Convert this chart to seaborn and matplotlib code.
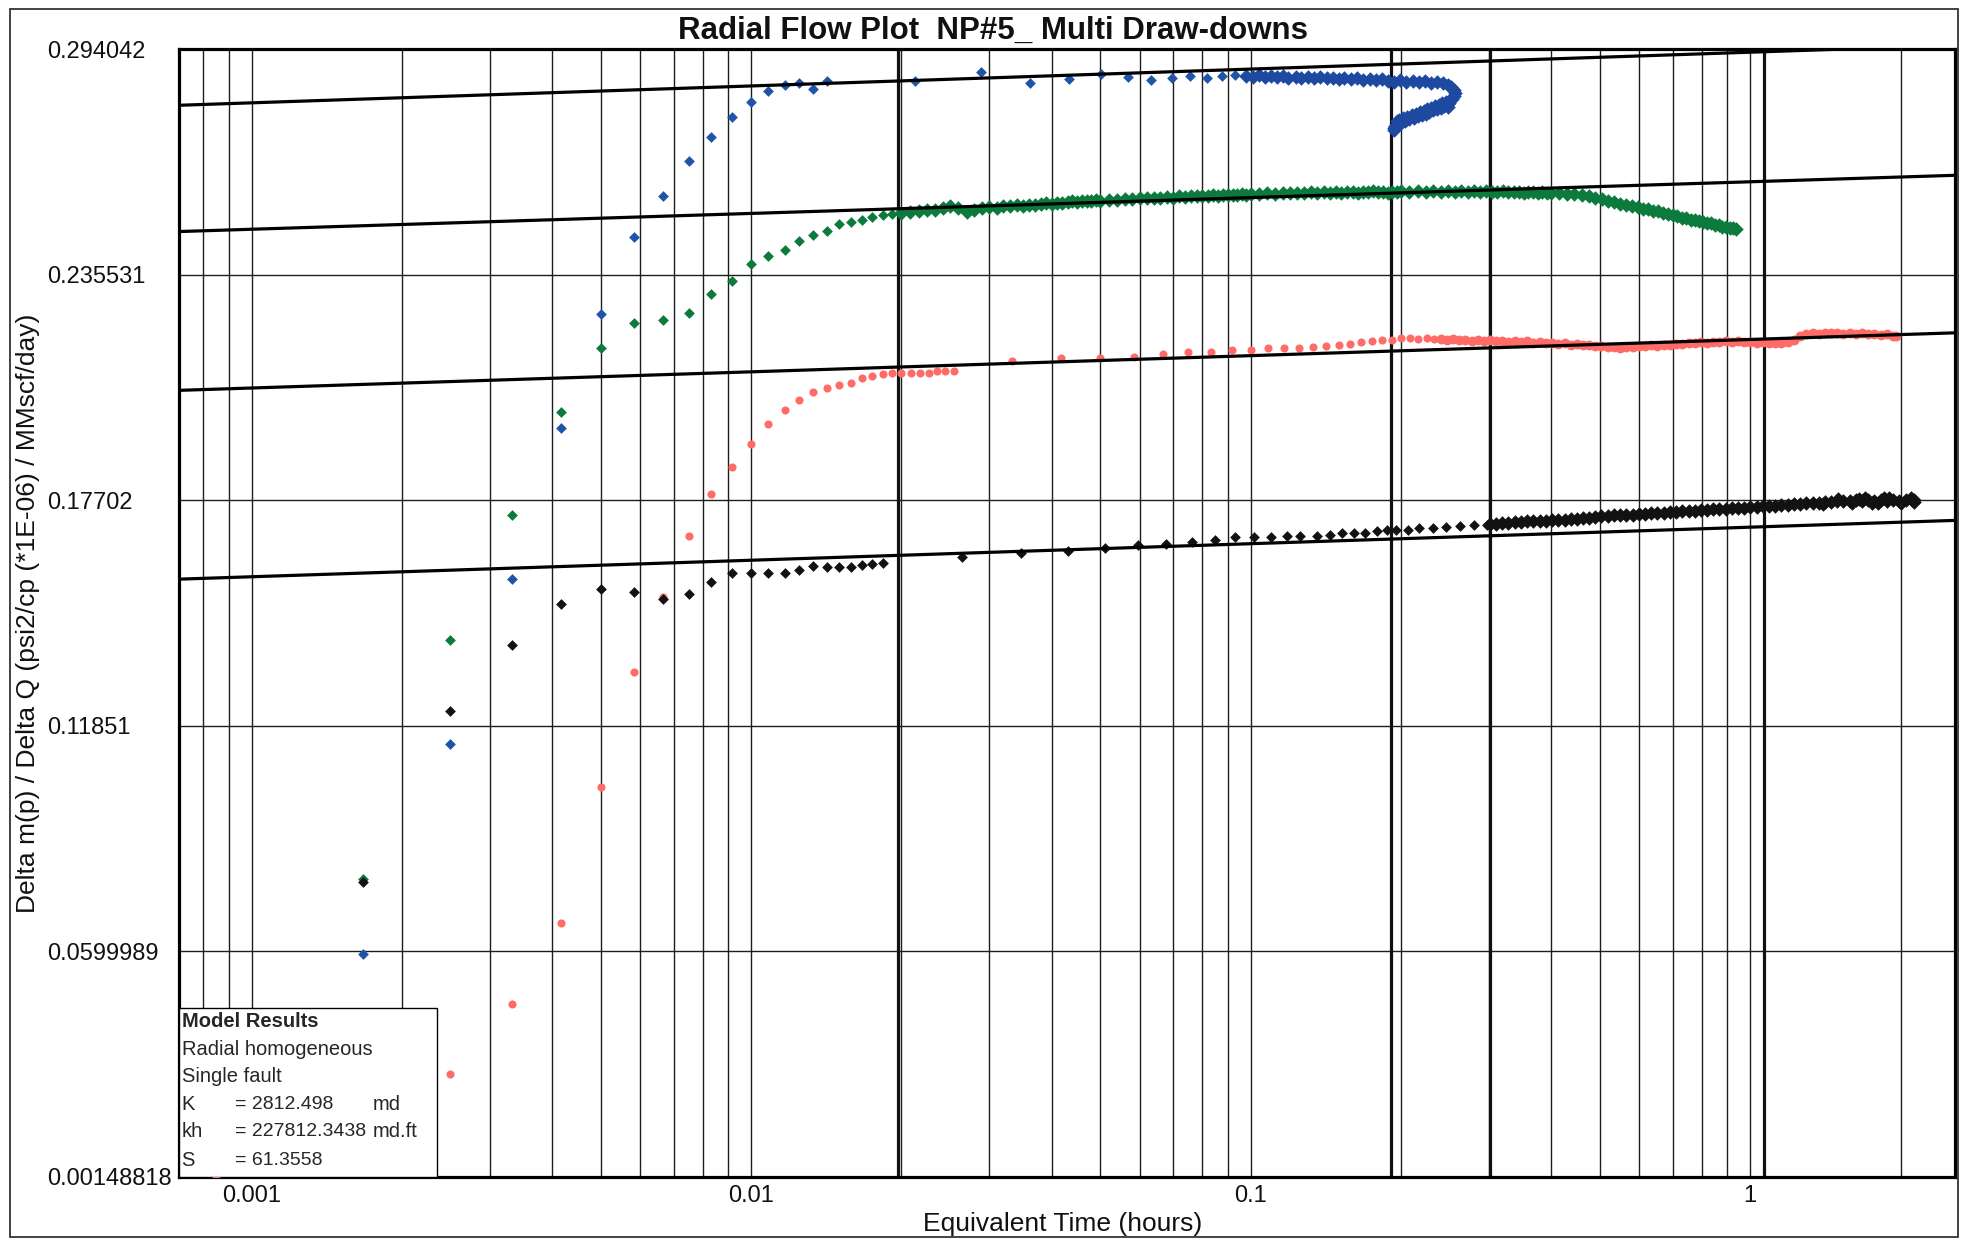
import numpy as np
import pandas as pd
import matplotlib
matplotlib.use('Agg')
import matplotlib.pyplot as plt
import seaborn as sns
from matplotlib.patches import Rectangle
from matplotlib.ticker import LogLocator, FixedLocator, NullFormatter

sns.set_theme(style='white')
plt.rcParams['font.family'] = ['Liberation Sans', 'DejaVu Sans']

# ---- data (time in hours, value in psi2/cp/MMscf/day) ----
# early, well separated points
blue_t = [0.00167, 0.0025, 0.00333, 0.00417, 0.005, 0.00583, 0.00667, 0.0075, 0.00833, 0.00917,
          0.01, 0.01083, 0.01167, 0.0125, 0.01333, 0.01417,
          0.0213, 0.0288, 0.0362, 0.0433, 0.0502, 0.0567, 0.0632, 0.0697, 0.0758, 0.0818,
          0.0875, 0.0930]
blue_v = [0.0593, 0.1137, 0.1565, 0.1958, 0.2253, 0.2454, 0.2558, 0.2649, 0.2713, 0.2765,
          0.2804, 0.2832, 0.2846, 0.2853, 0.2838, 0.2858,
          0.2857, 0.2880, 0.2853, 0.2862, 0.2875, 0.2868, 0.2859, 0.2866, 0.2870, 0.2866,
          0.2870, 0.2872]
# late, densely sampled part (incl. the loop back in equivalent time)
blue_band_t = [0.098, 0.101, 0.104, 0.107, 0.110, 0.113, 0.116, 0.119, 0.123, 0.126,
               0.130, 0.134, 0.138, 0.142, 0.146, 0.150, 0.154, 0.159, 0.163, 0.168,
               0.173, 0.178, 0.183, 0.188, 0.194, 0.199, 0.205, 0.211, 0.217, 0.223,
               0.230, 0.236, 0.243, 0.248,
               0.252, 0.255, 0.256, 0.255, 0.253, 0.250, 0.2485,
               0.244, 0.240, 0.236, 0.232, 0.228, 0.224, 0.220, 0.216, 0.212, 0.208,
               0.204, 0.200, 0.197, 0.195, 0.194, 0.194,
               0.250, 0.246, 0.242, 0.238, 0.234, 0.230, 0.226, 0.222, 0.218, 0.214,
               0.210, 0.206, 0.202, 0.198, 0.196]
blue_band_v = [0.2871, 0.2869, 0.2872, 0.2868, 0.2871, 0.2867, 0.2870, 0.2866, 0.2869, 0.2866,
               0.2868, 0.2865, 0.2867, 0.2864, 0.2866, 0.2863, 0.2865, 0.2862, 0.2864, 0.2861,
               0.2863, 0.2860, 0.2862, 0.2858, 0.2856, 0.2859, 0.2855, 0.2858, 0.2854, 0.2857,
               0.2853, 0.2855, 0.2851, 0.2848,
               0.2842, 0.2834, 0.2826, 0.2818, 0.2810, 0.2800, 0.2790,
               0.2792, 0.2788, 0.2784, 0.2781, 0.2777, 0.2773, 0.2769, 0.2766, 0.2762, 0.2758,
               0.2754, 0.2749, 0.2745, 0.2740, 0.2735, 0.2730,
               0.2806, 0.2803, 0.2800, 0.2796, 0.2792, 0.2788, 0.2784, 0.2780, 0.2776, 0.2772,
               0.2769, 0.2765, 0.2761, 0.2757, 0.2753]

green_t = [0.00167, 0.0025, 0.00333, 0.00417, 0.005, 0.00583, 0.00667, 0.0075, 0.00833, 0.00917,
           0.01, 0.01083, 0.01167, 0.0125, 0.01333, 0.01417, 0.015, 0.01583, 0.01667, 0.0175,
           0.01833, 0.01917]
green_v = [0.0787, 0.1407, 0.1731, 0.2000, 0.2165, 0.2229, 0.2237, 0.2257, 0.2306, 0.2338,
           0.2384, 0.2403, 0.2419, 0.2443, 0.2458, 0.2469, 0.2486, 0.2492, 0.2498, 0.2505,
           0.2509, 0.2512]
green_band_t = [0.02, 0.02083, 0.02167, 0.0225, 0.02333, 0.02417, 0.025,
                0.026, 0.027, 0.028, 0.029, 0.030, 0.031, 0.032, 0.033, 0.034, 0.035,
                0.036, 0.037, 0.038, 0.039, 0.040, 0.041, 0.042, 0.043, 0.044, 0.045,
                0.046, 0.047, 0.048, 0.049, 0.050,
                0.052, 0.054, 0.056, 0.058, 0.060, 0.062, 0.064, 0.066, 0.068, 0.070,
                0.072, 0.074, 0.076, 0.078, 0.080, 0.082, 0.084, 0.086, 0.088, 0.090,
                0.092, 0.094, 0.096, 0.098, 0.100,
                0.104, 0.108, 0.112, 0.116, 0.120, 0.124, 0.128, 0.132, 0.136, 0.140,
                0.144, 0.148, 0.152, 0.156, 0.160, 0.164, 0.168, 0.172, 0.176, 0.180,
                0.184, 0.188, 0.192, 0.196, 0.200,
                0.208, 0.216, 0.224, 0.232, 0.240, 0.248, 0.256, 0.264, 0.272, 0.280,
                0.288, 0.296, 0.304, 0.312, 0.320, 0.328, 0.336, 0.344, 0.352, 0.360,
                0.368, 0.376, 0.384, 0.392, 0.400,
                0.415, 0.430, 0.445, 0.460, 0.475, 0.490, 0.505, 0.520, 0.535, 0.550,
                0.565, 0.580, 0.595, 0.610, 0.625, 0.640, 0.655, 0.670, 0.685, 0.700,
                0.715, 0.730, 0.745, 0.760, 0.775, 0.790, 0.805, 0.820, 0.835, 0.850,
                0.865, 0.880, 0.895, 0.910, 0.925, 0.935]
green_band_v = [0.2515, 0.2518, 0.2520, 0.2522, 0.2524, 0.2527, 0.2533,
                0.2528, 0.2518, 0.2524, 0.2528, 0.2530, 0.2529, 0.2532, 0.2533, 0.2535, 0.2534,
                0.2537, 0.2536, 0.2538, 0.2540, 0.2539, 0.2542, 0.2541, 0.2543, 0.2545, 0.2543,
                0.2546, 0.2547, 0.2545, 0.2548, 0.2547,
                0.2550, 0.2549, 0.2552, 0.2551, 0.2554, 0.2553, 0.2555, 0.2554, 0.2557, 0.2555,
                0.2558, 0.2557, 0.2559, 0.2558, 0.2560, 0.2559, 0.2561, 0.2560, 0.2562, 0.2561,
                0.2563, 0.2562, 0.2564, 0.2563, 0.2565,
                0.2564, 0.2566, 0.2565, 0.2567, 0.2566, 0.2568, 0.2567, 0.2569, 0.2567, 0.2569,
                0.2568, 0.2570, 0.2568, 0.2570, 0.2569, 0.2568, 0.2570, 0.2569, 0.2571, 0.2569,
                0.2570, 0.2568, 0.2570, 0.2569, 0.2571,
                0.2570, 0.2572, 0.2570, 0.2571, 0.2569, 0.2572, 0.2570, 0.2571, 0.2569, 0.2571,
                0.2570, 0.2572, 0.2570, 0.2569, 0.2571, 0.2570, 0.2569, 0.2570, 0.2568, 0.2570,
                0.2569, 0.2568, 0.2569, 0.2567, 0.2568,
                0.2567, 0.2565, 0.2565, 0.2561, 0.2559, 0.2553, 0.2551, 0.2546, 0.2544, 0.2539,
                0.2537, 0.2532, 0.2531, 0.2526, 0.2525, 0.2520, 0.2519, 0.2514, 0.2513, 0.2509,
                0.2508, 0.2503, 0.2503, 0.2498, 0.2498, 0.2494, 0.2493, 0.2489, 0.2489, 0.2484,
                0.2484, 0.2480, 0.2480, 0.2476, 0.2476, 0.2473]

red_t = [0.00085, 0.0025, 0.00333, 0.00417, 0.005, 0.00583, 0.00667, 0.0075, 0.00833, 0.00917,
         0.01, 0.01083, 0.01167, 0.0125, 0.01333, 0.01417, 0.015, 0.01583, 0.01667, 0.0175,
         0.01833, 0.01917, 0.02, 0.0209, 0.0218, 0.0227, 0.0236, 0.0245, 0.0255,
         0.0333, 0.0417, 0.05, 0.0583, 0.0667, 0.075, 0.0833, 0.0917, 0.1, 0.1083,
         0.1167, 0.125, 0.1333, 0.1417, 0.15, 0.1583, 0.1667, 0.175, 0.1833, 0.1917, 0.2,
         0.2083, 0.2167, 0.225, 0.2333]
red_v = [0.0012, 0.0281, 0.0463, 0.0674, 0.1027, 0.1325, 0.1518, 0.1677, 0.1785, 0.1856,
         0.1917, 0.1967, 0.2004, 0.2031, 0.2051, 0.2060, 0.2068, 0.2073, 0.2086, 0.2092,
         0.2097, 0.2100, 0.2100, 0.2100, 0.2099, 0.2099, 0.2106, 0.2106, 0.2106,
         0.2131, 0.2140, 0.2140, 0.2142, 0.2149, 0.2155, 0.2155, 0.2159, 0.2159, 0.2164,
         0.2164, 0.2164, 0.2168, 0.2170, 0.2172, 0.2175, 0.2181, 0.2184, 0.2185, 0.2187, 0.2190,
         0.2190, 0.2189, 0.2190, 0.2188]
red_band_t = [0.240, 0.247, 0.254, 0.261, 0.269, 0.277, 0.285, 0.293, 0.301, 0.310,
              0.319, 0.328, 0.338, 0.348, 0.358, 0.368, 0.379, 0.390, 0.401, 0.413,
              0.425, 0.437, 0.450, 0.463, 0.476, 0.490, 0.504, 0.519, 0.534, 0.549,
              0.565, 0.582, 0.599, 0.616, 0.634, 0.652, 0.671, 0.691, 0.711, 0.731,
              0.753, 0.774, 0.797, 0.820, 0.844, 0.868, 0.893, 0.919, 0.946, 0.973,
              1.001, 1.030, 1.060, 1.091, 1.123, 1.155, 1.189, 1.223, 1.259, 1.295,
              1.333, 1.371, 1.411, 1.452, 1.494, 1.537, 1.582, 1.628, 1.675, 1.723,
              1.773, 1.825, 1.878, 1.932, 1.960]
red_band_v = [0.2188, 0.2186, 0.2188, 0.2185, 0.2187, 0.2184, 0.2186, 0.2183, 0.2185, 0.2182,
              0.2184, 0.2181, 0.2183, 0.2180, 0.2182, 0.2179, 0.2180, 0.2177, 0.2179, 0.2176,
              0.2177, 0.2174, 0.2175, 0.2172, 0.2172, 0.2169, 0.2170, 0.2167, 0.2168, 0.2166,
              0.2168, 0.2167, 0.2170, 0.2169, 0.2172, 0.2171, 0.2174, 0.2173, 0.2176, 0.2175,
              0.2178, 0.2177, 0.2180, 0.2179, 0.2181, 0.2180, 0.2182, 0.2180, 0.2182, 0.2180,
              0.2181, 0.2179, 0.2180, 0.2178, 0.2179, 0.2178, 0.2181, 0.2187, 0.2195, 0.2200,
              0.2203, 0.2202, 0.2205, 0.2203, 0.2205, 0.2202, 0.2204, 0.2201, 0.2203, 0.2200,
              0.2202, 0.2199, 0.2200, 0.2197, 0.2196]

black_t = [0.00167, 0.0025, 0.00333, 0.00417, 0.005, 0.00583, 0.00667, 0.0075, 0.00833, 0.00917,
           0.01, 0.01083, 0.01167, 0.0125, 0.01333, 0.01417, 0.015, 0.01583, 0.01667, 0.0175,
           0.01833,
           0.0265, 0.0347, 0.0430, 0.0512, 0.0595, 0.0678, 0.0765, 0.0847, 0.0930,
           0.1015, 0.1099, 0.1182, 0.1256, 0.1355, 0.1444, 0.1522, 0.1612, 0.1697, 0.1790,
           0.1878, 0.1958, 0.2063, 0.2176, 0.2316, 0.2466, 0.2627, 0.2797, 0.2975]
black_v = [0.0779, 0.1224, 0.1394, 0.1500, 0.1540, 0.1533, 0.1513, 0.1526, 0.1559, 0.1582,
           0.1582, 0.1582, 0.1582, 0.1589, 0.1599, 0.1596, 0.1596, 0.1596, 0.1602, 0.1604,
           0.1608,
           0.1623, 0.1632, 0.1639, 0.1645, 0.1654, 0.1656, 0.1662, 0.1667, 0.1674,
           0.1675, 0.1675, 0.1678, 0.1678, 0.1678, 0.1680, 0.1686, 0.1686, 0.1686, 0.1690,
           0.1693, 0.1694, 0.1694, 0.1697, 0.1699, 0.1701, 0.1704, 0.1706, 0.1707]
black_band_t = [0.301, 0.310, 0.319, 0.328, 0.338, 0.348, 0.358, 0.368, 0.379, 0.390,
                0.401, 0.413, 0.425, 0.437, 0.450, 0.463, 0.476, 0.490, 0.504, 0.519,
                0.534, 0.549, 0.565, 0.582, 0.599, 0.616, 0.634, 0.652, 0.671, 0.691,
                0.711, 0.731, 0.753, 0.774, 0.797, 0.820, 0.844, 0.868, 0.893, 0.919,
                0.946, 0.973, 1.001, 1.030, 1.060, 1.091, 1.123, 1.155, 1.189, 1.223,
                1.259, 1.295, 1.333, 1.371, 1.411, 1.452, 1.494, 1.537, 1.582, 1.628,
                1.675, 1.723, 1.773, 1.825, 1.878, 1.932, 1.990, 2.047, 2.106, 2.130,
                1.40, 1.50, 1.60, 1.70, 1.80, 1.90, 2.00, 2.10, 2.13, 1.65, 1.85, 1.75]
black_band_v = [0.1708, 0.1709, 0.1710, 0.1711, 0.1713, 0.1713, 0.1715, 0.1715, 0.1717, 0.1717,
                0.1718, 0.1719, 0.1720, 0.1721, 0.1722, 0.1723, 0.1725, 0.1726, 0.1728, 0.1729,
                0.1731, 0.1731, 0.1732, 0.1733, 0.1734, 0.1734, 0.1736, 0.1737, 0.1738, 0.1739,
                0.1740, 0.1741, 0.1742, 0.1743, 0.1745, 0.1745, 0.1747, 0.1747, 0.1748, 0.1749,
                0.1750, 0.1750, 0.1752, 0.1753, 0.1754, 0.1755, 0.1756, 0.1757, 0.1759, 0.1760,
                0.1761, 0.1762, 0.1764, 0.1764, 0.1766, 0.1765, 0.1767, 0.1769, 0.1767, 0.1770,
                0.1768, 0.1771, 0.1768, 0.1771, 0.1769, 0.1771, 0.1769, 0.1771, 0.1770, 0.1771,
                0.1760, 0.1773, 0.1763, 0.1775, 0.1763, 0.1776, 0.1764, 0.1776, 0.1766, 0.1774,
                0.1775, 0.1764]

# semi-log straight lines (value at left and right edge of the time axis)
fit_left = [0.27945, 0.24670, 0.20551, 0.15654]
fit_right = [0.29501, 0.26129, 0.22043, 0.17178]
# heavy vertical marker lines
marker_t = [0.0197, 0.191, 0.3015, 1.066]

x_limits = [0.000716, 2.57]
y_ticks = [0.00148818, 0.0599989, 0.11851, 0.17702, 0.235531, 0.294042]
y_tick_labels = ['0.00148818', '0.0599989', '0.11851', '0.17702', '0.235531', '0.294042']
x_ticks = [0.001, 0.01, 0.1, 1]
x_tick_labels = ['0.001', '0.01', '0.1', '1']

model_lines = [('Radial homogeneous', '', ''), ('Single fault', '', ''),
               ('K', '= 2812.498', 'md'), ('kh', '= 227812.3438', 'md.ft'),
               ('S', '= 61.3558', '')]

# ---- figure ----
fig = plt.figure(figsize=(19.61, 12.41), dpi=100)
ax = fig.add_axes([0.0913, 0.0516, 0.9056, 0.9089])
ax.set_xscale('log')

series = [
    (blue_t, blue_v, '#1f55a8', 'D', 30),
    (blue_band_t, blue_band_v, '#1d4aa0', 'D', 55),
    (green_t, green_v, '#0b7a3c', 'D', 30),
    (green_band_t, green_band_v, '#0b7a3c', 'D', 55),
    (red_t, red_v, '#ff6b66', 'o', 34),
    (red_band_t, red_band_v, '#ff6b66', 'o', 50),
    (black_t, black_v, '#121212', 'D', 30),
    (black_band_t, black_band_v, '#121212', 'D', 55),
]
for t, v, color, marker, size in series:
    df = pd.DataFrame({'t': t, 'v': v})
    sns.scatterplot(data=df, x='t', y='v', color=color, marker=marker, s=size,
                    linewidth=0, ax=ax, zorder=3, legend=False)

for yl, yr in zip(fit_left, fit_right):
    ax.plot(x_limits, [yl, yr], color='black', lw=2.3, zorder=4, solid_capstyle='butt')

for t in marker_t:
    ax.axvline(t, color='#111111', lw=2.3, zorder=2.5)

ax.set_xlim(x_limits)
ax.set_ylim(y_ticks[0], y_ticks[-1])

ax.xaxis.set_major_locator(FixedLocator(x_ticks))
ax.set_xticklabels(x_tick_labels)
ax.xaxis.set_minor_locator(LogLocator(base=10, subs=np.arange(2, 10)))
ax.xaxis.set_minor_formatter(NullFormatter())
ax.set_yticks(y_ticks)
ax.set_yticklabels(y_tick_labels)

ax.set_axisbelow(True)
ax.grid(True, which='both', axis='x', color='#1a1f1c', lw=1.0)
ax.grid(True, which='major', axis='y', color='#1a1f1c', lw=1.0)

ax.tick_params(axis='both', which='major', direction='out', length=3, width=1,
               color='black', labelsize=17, labelcolor='#111111')
ax.tick_params(axis='x', which='major', pad=3)
ax.tick_params(axis='x', which='minor', length=0)
ax.tick_params(axis='y', pad=92)
for lbl in ax.get_yticklabels():
    lbl.set_horizontalalignment('left')

for s in ax.spines.values():
    s.set_linewidth(2.3)
    s.set_color('black')

ax.set_xlabel('Equivalent Time (hours)', fontsize=19, color='#111111')
ax.xaxis.set_label_coords(0.4977, -0.031)
ax.set_ylabel('Delta m(p) / Delta Q (psi2/cp (*1E-06) / MMscf/day)', fontsize=19, color='#111111')
ax.yaxis.set_label_coords(-0.0783, 0.5)

fig.text(0.5064, 0.9748, 'Radial Flow Plot  NP#5_ Multi Draw-downs', ha='center', va='center',
         fontsize=22.5, fontweight='bold', color='#111111')

# model results box
ax.add_patch(Rectangle((0, 0), 0.1451, 0.1497, transform=ax.transAxes, facecolor='white',
                       edgecolor='black', lw=1.0, zorder=5))
ax.text(0.0014, 0.1375, 'Model Results', transform=ax.transAxes, fontsize=14.5,
        fontweight='bold', va='center', ha='left', zorder=6)
row_y = [0.1131, 0.0887, 0.0643, 0.0399, 0.0144]
for (a, b, c), yy in zip(model_lines, row_y):
    ax.text(0.0014, yy, a, transform=ax.transAxes, fontsize=14.5, va='center', zorder=6)
    if b:
        ax.text(0.0317, yy, b, transform=ax.transAxes, fontsize=14, va='center', zorder=6)
    if c:
        ax.text(0.1088, yy, c, transform=ax.transAxes, fontsize=14.5, va='center', zorder=6)

# outer frame
fig.patches.append(Rectangle((0.0051, 0.0032), 0.9934, 0.9895, transform=fig.transFigure,
                             fill=False, edgecolor='#333333', lw=1.3))

fig.savefig('out.png', dpi=100)
